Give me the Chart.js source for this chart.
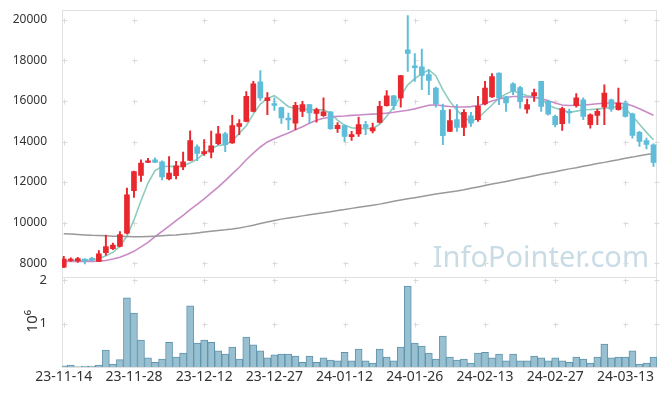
<!DOCTYPE html>
<html>
<head>
<meta charset="utf-8">
<script src="https://cdn.jsdelivr.net/npm/chart.js@4.4.1/dist/chart.umd.min.js"></script>
<style>
  html, body { margin: 0; padding: 0; background: #ffffff; }
  #wrap { width: 665px; height: 396px; position: relative; }
</style>
</head>
<body>
<div id="wrap"><canvas id="c" width="665" height="396"></canvas></div>
<script>
// ---- data ----
const dates = [
  '23-11-14','23-11-15','23-11-16','23-11-17','23-11-20','23-11-21','23-11-22','23-11-23','23-11-24','23-11-27',
  '23-11-28','23-11-29','23-11-30','23-12-01','23-12-04','23-12-05','23-12-06','23-12-07','23-12-08','23-12-11',
  '23-12-12','23-12-13','23-12-14','23-12-15','23-12-18','23-12-19','23-12-20','23-12-21','23-12-22','23-12-26',
  '23-12-27','23-12-28','24-01-02','24-01-03','24-01-04','24-01-05','24-01-08','24-01-09','24-01-10','24-01-11',
  '24-01-12','24-01-15','24-01-16','24-01-17','24-01-18','24-01-19','24-01-22','24-01-23','24-01-24','24-01-25',
  '24-01-26','24-01-29','24-01-30','24-01-31','24-02-01','24-02-02','24-02-05','24-02-06','24-02-07','24-02-08',
  '24-02-13','24-02-14','24-02-15','24-02-16','24-02-19','24-02-20','24-02-21','24-02-22','24-02-23','24-02-26',
  '24-02-27','24-02-28','24-02-29','24-03-04','24-03-05','24-03-06','24-03-07','24-03-08','24-03-11','24-03-12',
  '24-03-13','24-03-14','24-03-15','24-03-18','24-03-19'
];
const opens = [
  7800,8130,8110,8200,8240,8080,8520,8710,8820,9480,
  11570,12330,12970,13100,13000,12150,12310,12740,13070,13740,
  13400,13480,13890,14380,13930,14750,14990,15490,16950,16010,
  15870,15670,15160,14900,15490,15820,15390,15270,15460,14630,
  14780,14240,14380,14830,14520,14940,15770,16260,16150,18530,
  17740,17680,17300,16640,15540,14500,15080,14700,15270,15080,
  15850,16200,17380,16200,16850,16660,15600,16260,16970,15980,
  15240,14880,15490,15770,16060,14830,15290,15700,16060,15570,
  15900,15370,14450,14050,13840
];
const highs = [
  8330,8260,8280,8210,8280,8620,9380,8990,9560,11700,
  12540,13100,13165,13200,13050,13260,13020,13480,14530,13840,
  14090,14520,14750,14450,15290,15080,16470,16970,17500,16420,
  16150,15700,15400,15930,15980,15830,15650,16150,15480,14940,
  14820,14500,15200,14990,14910,15980,16510,16280,17270,20210,
  18340,18560,17550,16690,15850,15570,15820,15570,15440,16230,
  16970,17350,17390,16230,16900,16720,16100,16590,16970,16050,
  15300,15700,15600,16360,16150,15360,15600,16800,16100,16640,
  15990,15400,14500,14170,13880
];
const lows = [
  7780,8080,8030,7965,8110,8070,8395,8660,8800,9440,
  11240,12030,12950,12960,12110,12100,12150,12610,13050,13050,
  13310,13185,13850,13500,13900,14335,14970,15460,16030,15320,
  15530,14890,14580,14580,15230,14910,14960,15240,14600,14450,
  14000,14050,14250,14335,14420,14900,15750,15570,15700,17460,
  16970,16560,16310,15700,13840,14480,14500,14290,14750,14990,
  15800,16170,15820,15490,16310,15650,15400,15980,15490,15300,
  14720,14550,14910,15700,15080,14660,14830,14830,15490,15550,
  15200,14170,13760,13630,12770
];
const closes = [
  8200,8200,8220,8110,8140,8460,8820,8890,9410,11370,
  12510,12940,13050,12970,12250,12440,12800,13000,14040,13410,
  13500,13790,14380,13840,14780,14890,16230,16850,16150,16150,
  15780,15160,15070,15780,15820,15410,15570,15460,14630,14800,
  14250,14340,14830,14700,14680,15730,16260,15770,17250,18350,
  17640,17260,17020,15870,14290,15030,14700,15440,14910,15730,
  16640,17210,16150,15900,16480,15960,15820,16420,15730,15350,
  14830,15620,15410,16150,15240,15320,15490,16390,15600,15900,
  15240,14300,14000,13860,12970
];
const volumes = [
  25000,45000,5000,20000,20000,45000,390000,70000,170000,1590000,
  1240000,620000,210000,110000,180000,570000,230000,320000,1410000,550000,
  620000,570000,370000,300000,460000,180000,690000,510000,370000,210000,
  280000,300000,300000,250000,110000,250000,110000,210000,160000,140000,
  340000,140000,410000,140000,90000,410000,230000,140000,460000,1860000,
  550000,480000,320000,180000,710000,230000,160000,180000,90000,320000,
  340000,210000,300000,140000,300000,140000,140000,250000,210000,140000,
  210000,140000,110000,230000,180000,90000,230000,530000,210000,230000,
  230000,370000,70000,90000,230000
];
const maShort = [
  8110,8120,8130,8130,8150,8220,8360,8530,8830,9330,
  10130,11080,11950,12570,12760,12780,12760,12780,12950,13120,
  13420,13640,13810,13840,14030,14400,14780,15350,15850,16130,
  16260,16000,15720,15640,15600,15580,15560,15560,15400,15050,
  14800,14680,14650,14630,14650,14850,15250,15700,16250,16800,
  17100,17350,17530,17250,16550,15980,15550,15200,14980,15150,
  15480,15800,16150,16350,16500,16380,16260,16190,16140,15790,
  15650,15560,15440,15500,15570,15580,15600,15640,15680,15720,
  15620,15250,14850,14450,14090
];
const maMid = [
  8080,8080,8080,8080,8085,8095,8130,8200,8290,8420,
  8580,8800,9020,9300,9560,9830,10100,10360,10640,10900,
  11170,11460,11750,12070,12400,12730,13100,13430,13730,13980,
  14140,14280,14420,14580,14730,14900,15050,15150,15200,15240,
  15260,15290,15310,15330,15350,15370,15400,15440,15490,15540,
  15610,15700,15790,15810,15760,15730,15710,15700,15720,15770,
  15880,16000,16100,16170,16220,16220,16200,16190,16120,16010,
  15900,15800,15780,15790,15800,15830,15860,15890,15900,15900,
  15860,15760,15620,15460,15300
];
const maLong = [
  9450,9430,9410,9390,9370,9360,9345,9330,9320,9310,
  9305,9300,9310,9325,9345,9370,9390,9420,9450,9490,
  9530,9570,9610,9640,9680,9730,9800,9870,9950,10030,
  10100,10170,10230,10270,10330,10380,10430,10480,10530,10590,
  10640,10700,10760,10810,10860,10910,10980,11050,11110,11170,
  11230,11290,11350,11410,11460,11510,11560,11620,11690,11760,
  11830,11900,11960,12030,12100,12170,12240,12310,12380,12450,
  12510,12580,12650,12710,12780,12840,12910,12970,13040,13100,
  13170,13230,13300,13360,13410
];
const priceTicks = [8000,10000,12000,14000,16000,18000,20000];
const volumeTicks = [0,1000000,2000000];
const dateTickIdx = [0,10,20,30,40,50,60,70,80];

// ---- styling ----
const RED = '#e8282e', BLUE = '#5fbdd9';
const FONT = '"Noto Sans", "DejaVu Sans", sans-serif';
const idx = dates.map((_, i) => i);
const upColors = idx.map(i => closes[i] >= opens[i] ? RED : BLUE);
const pt = (arr) => idx.map(i => ({ x: i, y: arr[i] }));

const decor = {
  id: 'decor',
  beforeDatasetsDraw(chart) {
    const { ctx, chartArea: ca, scales } = chart;
    const xs = scales.x, yp = scales.y, yv = scales.yv;
    ctx.save();
    // watermark
    ctx.font = '29px ' + FONT;
    ctx.fillStyle = 'rgba(165,196,214,0.6)';
    ctx.textAlign = 'right';
    ctx.textBaseline = 'alphabetic';
    ctx.fillText('InfoPointer.com', ca.right - 8, yp.bottom - 10);
    // panel frames
    ctx.strokeStyle = '#e1e1e1';
    ctx.lineWidth = 1;
    [yp, yv].forEach(s => {
      ctx.strokeRect(Math.round(ca.left) + 0.5, Math.round(s.top) + 0.5,
        Math.round(ca.right - ca.left) - 1, Math.round(s.bottom - s.top));
    });
    // grid crosses
    ctx.strokeStyle = '#dadada';
    const cols = xs.ticks.map(t => xs.getPixelForValue(t.value)).concat([ca.right - 1]);
    const cross = (x, y) => {
      x = Math.round(x) + 0.5; y = Math.round(y) + 0.5;
      ctx.beginPath();
      ctx.moveTo(x - 2, y); ctx.lineTo(x + 3, y);
      ctx.moveTo(x, y - 2); ctx.lineTo(x, y + 3);
      ctx.stroke();
    };
    yp.ticks.forEach(t => cols.forEach(x => cross(x, yp.getPixelForValue(t.value))));
    yv.ticks.forEach(t => { if (t.value > 0) cols.forEach(x => cross(x, yv.getPixelForValue(t.value))); });
    ctx.restore();
  },
  afterDraw(chart) {
    const { ctx, scales } = chart;
    const yv = scales.yv;
    ctx.save();
    ctx.translate(33, (yv.top + yv.bottom) / 2 - 1);
    ctx.rotate(-Math.PI / 2);
    ctx.font = '15px ' + FONT;
    ctx.fillStyle = '#333';
    ctx.textAlign = 'center';
    ctx.textBaseline = 'middle';
    ctx.fillText('10\u2076', 0, 0);
    ctx.restore();
  }
};

const fitV = s => { s.width = 62; s.paddingTop = 0; s.paddingBottom = 0; };

new Chart(document.getElementById('c'), {
  type: 'bar',
  data: {
    datasets: [
      { type: 'line', label: 'MA long', data: pt(maLong), yAxisID: 'y', borderColor: '#999999', borderWidth: 1.5, pointRadius: 0, order: 5 },
      { type: 'line', label: 'MA mid', data: pt(maMid), yAxisID: 'y', borderColor: '#c98bc6', borderWidth: 1.6, pointRadius: 0, order: 5 },
      { type: 'line', label: 'MA short', data: pt(maShort), yAxisID: 'y', borderColor: '#8ccbbd', borderWidth: 1.6, pointRadius: 0, order: 5 },
      { type: 'bar', label: 'wick', data: idx.map(i => ({ x: i, y: [lows[i], highs[i]] })), yAxisID: 'y',
        backgroundColor: upColors, barThickness: 1.3, grouped: false, order: 1 },
      { type: 'bar', label: 'body', data: idx.map(i => ({ x: i, y: [opens[i], closes[i]] })), yAxisID: 'y',
        backgroundColor: upColors, barThickness: 5, minBarLength: 1, grouped: false, order: 0 },
      { type: 'bar', label: 'volume', data: pt(volumes), yAxisID: 'yv',
        backgroundColor: 'rgba(152,192,209,1)', borderColor: '#5f94ac', borderWidth: 1,
        barThickness: 7, grouped: false, order: 2 }
    ]
  },
  options: {
    responsive: false,
    animation: false,
    devicePixelRatio: 1,
    layout: { padding: { top: 10, right: 8, left: 0, bottom: 0 } },
    plugins: { legend: { display: false }, tooltip: { enabled: false } },
    scales: {
      x: {
        type: 'linear', min: -0.25, max: 84.5, offset: false,
        grid: { display: false, drawTicks: false }, border: { display: false },
        afterBuildTicks: s => { s.ticks = dateTickIdx.map(v => ({ value: v })); },
        afterFit: s => { s.height = 29; s.paddingLeft = 0; s.paddingRight = 0; },
        ticks: { autoSkip: false, maxRotation: 0, padding: 2, color: '#333',
          font: { family: FONT, size: 14 }, callback: v => dates[v] }
      },
      yv: {
        type: 'linear', position: 'left', stack: 'panels', stackWeight: 89.6,
        min: 0, max: 2060000,
        grid: { display: false }, border: { display: false },
        afterBuildTicks: s => { s.ticks = volumeTicks.map(v => ({ value: v })); },
        afterFit: fitV,
        ticks: { padding: 7, color: '#333', font: { family: FONT, size: 13 },
          callback: v => v === 0 ? '' : String(v / 1000000) }
      },
      y: {
        type: 'linear', position: 'left', stack: 'panels', stackWeight: 267.7,
        min: 7290, max: 20490,
        grid: { display: false }, border: { display: false },
        afterBuildTicks: s => { s.ticks = priceTicks.map(v => ({ value: v })); },
        afterFit: fitV,
        ticks: { padding: 7, color: '#333', font: { family: FONT, size: 12 } , callback: v => String(v) }
      }
    }
  },
  plugins: [decor]
});
</script>
</body>
</html>
